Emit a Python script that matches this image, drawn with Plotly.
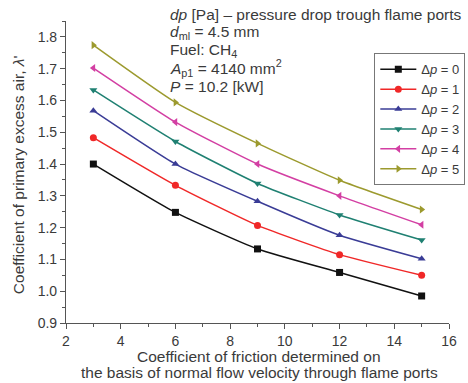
import plotly.graph_objects as go

x_vals = [3, 6, 9, 12, 15]
dp0 = [1.400, 1.248, 1.133, 1.059, 0.985]
dp1 = [1.483, 1.333, 1.207, 1.115, 1.050]
dp2 = [1.568, 1.400, 1.283, 1.176, 1.102]
dp3 = [1.633, 1.471, 1.339, 1.240, 1.161]
dp4 = [1.702, 1.532, 1.400, 1.300, 1.209]
dp5 = [1.774, 1.594, 1.465, 1.349, 1.257]

series = [
    ("Δ<i>p</i> = 0", dp0, "#111111", "square"),
    ("Δ<i>p</i> = 1", dp1, "#F02828", "circle"),
    ("Δ<i>p</i> = 2", dp2, "#3A3C96", "triangle-up"),
    ("Δ<i>p</i> = 3", dp3, "#1F8072", "triangle-down"),
    ("Δ<i>p</i> = 4", dp4, "#D33FA3", "triangle-left"),
    ("Δ<i>p</i> = 5", dp5, "#9C9A2E", "triangle-right"),
]

FONT = "Liberation Sans, Arial, sans-serif"
TXT = "#3a3a3a"

fig = go.Figure()
for name, ys, col, sym in series:
    fig.add_trace(go.Scatter(
        x=x_vals, y=ys, name=name, mode="lines+markers",
        line=dict(color=col, width=1.5, shape="spline", smoothing=0.5),
        marker=dict(symbol=sym, size=7, color=col),
    ))

axis_common = dict(
    showline=True, linecolor="#555555", linewidth=1.2,
    ticks="outside", ticklen=5, tickcolor="#555555", tickwidth=1.2,
    showgrid=False, zeroline=False, mirror=False,
    tickfont=dict(family=FONT, size=14, color=TXT),
)

fig.update_xaxes(range=[2, 16], tickvals=[2, 4, 6, 8, 10, 12, 14, 16],
                 minor=dict(ticks="outside", ticklen=3, dtick=1, tickcolor="#555555"),
                 **axis_common)
fig.update_yaxes(range=[0.9, 1.85], tickvals=[0.9, 1.0, 1.1, 1.2, 1.3, 1.4, 1.5, 1.6, 1.7, 1.8],
                 ticktext=["0.9", "1.0", "1.1", "1.2", "1.3", "1.4", "1.5", "1.6", "1.7", "1.8"],
                 minor=dict(ticks="outside", ticklen=3, dtick=0.05, tickcolor="#555555"),
                 **axis_common)

ann_lines = [
    ("<i>dp</i> [Pa] – pressure drop trough flame ports", 1.020),
    ("<i>d</i><sub>ml</sub> = 4.5 mm", 0.962),
    ("Fuel: CH<sub>4</sub>", 0.903),
    ("<i>A</i><sub>p1</sub> = 4140 mm<sup>2</sup>", 0.843),
    ("<i>P</i> = 10.2 [kW]", 0.783),
]
for txt, yy in ann_lines:
    fig.add_annotation(text=txt, xref="paper", yref="paper", x=0.266, y=yy,
                       xanchor="left", yanchor="middle", showarrow=False,
                       font=dict(family=FONT, size=15.5, color=TXT))

xtitle_lines = [
    ("Coefficient of friction determined on", -0.112),
    ("the basis of normal flow velocity through flame ports", -0.164),
]
for txt, yy in xtitle_lines:
    fig.add_annotation(text=txt, xref="paper", yref="paper", x=0.505, y=yy,
                       xanchor="center", yanchor="middle", showarrow=False,
                       font=dict(family=FONT, size=15.5, color=TXT))

fig.add_annotation(text="Coefficient of primary excess air, <i>λ</i>'",
                   xref="paper", yref="paper", x=-0.125, y=0.49, xanchor="center", yanchor="middle",
                   textangle=-90, showarrow=False, font=dict(family=FONT, size=15.5, color=TXT))

fig.update_layout(
    width=468, height=383,
    margin=dict(l=66, r=19, t=21, b=60, autoexpand=False),
    paper_bgcolor="white", plot_bgcolor="white",
    showlegend=True,
    legend=dict(x=0.805, y=0.893, xanchor="left", yanchor="top",
                bgcolor="white", bordercolor="#777777", borderwidth=1,
                font=dict(family=FONT, size=13, color=TXT),
                tracegroupgap=0, itemwidth=36),
    font=dict(family=FONT, color=TXT),
)

fig.write_html("out.html")
